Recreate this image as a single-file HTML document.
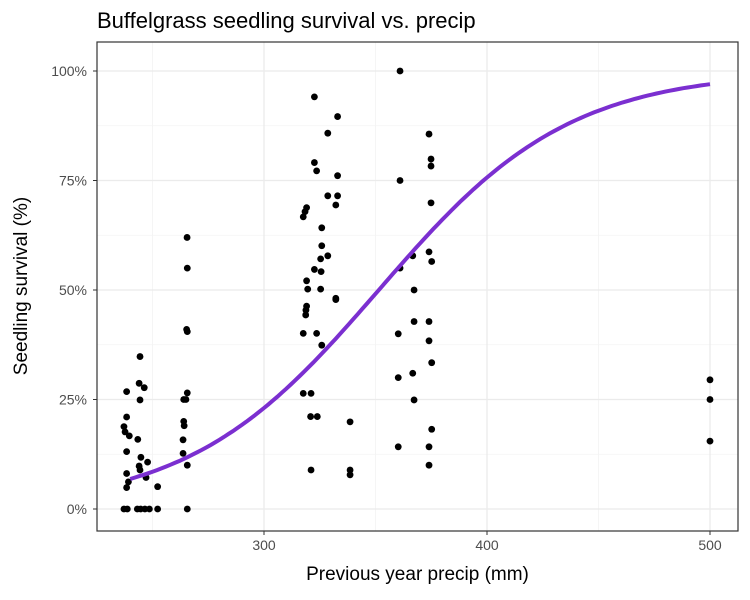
<!DOCTYPE html>
<html><head><meta charset="utf-8"><style>
body{margin:0;background:#fff;}
svg{display:block;font-family:"Liberation Sans",sans-serif;}
</style></head><body>
<svg id="chart" width="750" height="600"></svg>
<script>
const precip=[237.2,238.7,243.2,244.7,246.6,248.6,252.3,244.4,238.4,244,246.3,244.4,238.4,237.2,237.7,239.6,243.4,238.4,244.8,244,247.8,244.4,247.1,238.4,239.2,238.4,252.3,
265.5,265.6,265.6,265.3,264,265.6,265,264,264.2,263.7,263.7,265.6,265.6,
322.6,333,328.6,322.6,323.6,333,328.6,333,332.2,319.1,318.4,317.6,325.9,325.9,325.4,328.6,322.6,325.6,319.1,319.6,325.4,332.2,332.2,319.1,318.8,318.7,317.6,323.6,325.9,317.6,321.1,320.9,323.9,338.6,321.1,338.6,338.6,
361,374,374.9,374.9,361,374.9,366.7,374,375.2,361,367.3,367.3,374,360.2,374,375.2,360.2,366.7,367.3,375.2,360.2,374,374,
500,500,500];
const survival=[0,0,0,0,0,0,0,34.8,26.8,28.7,27.7,24.9,21,18.8,17.6,16.7,15.9,13.1,11.8,9.8,10.7,8.9,7.2,8.1,6.2,4.9,5.1,
62,55,40.5,41,25,26.5,25,20,19,15.8,12.7,10,0,
94.1,89.6,85.8,79.1,77.2,76.1,71.5,71.5,69.4,68.8,67.9,66.7,64.2,60.1,57.1,57.8,54.7,54.2,52.1,50.2,50.2,48.1,47.8,46.3,45.4,44.3,40.1,40.1,37.4,26.4,26.4,21.1,21.1,19.9,8.9,8.9,7.8,
100,85.6,79.9,78.3,75,69.9,57.8,58.7,56.5,55,50,42.8,42.8,40,38.4,33.4,30,31,24.9,18.2,14.2,14.2,10,
29.5,25,15.5];
const xTicks=[300,400,500];
const yTicks=[0,25,50,75,100];
const fitA=-0.25, fitB=0.0234, fitCenter=340.8;
const NS="http://www.w3.org/2000/svg";
const svg=document.getElementById('chart');
const L=97,R=738,T=42,B=531;
const sx=v=>264+(v-300)*2.23;
const sy=v=>509-v*4.38;
function mk(tag,attrs,parent){const e=document.createElementNS(NS,tag);for(const k in attrs)e.setAttribute(k,attrs[k]);(parent||svg).appendChild(e);return e;}
const grid=mk('g',{});


[250,350,450].forEach(v=>{mk('line',{x1:sx(v),x2:sx(v),y1:T,y2:B,stroke:'#f3f3f3','stroke-width':0.8},grid);});
[12.5,37.5,62.5,87.5].forEach(v=>{mk('line',{x1:L,x2:R,y1:sy(v),y2:sy(v),stroke:'#f3f3f3','stroke-width':0.8},grid);});
xTicks.forEach(v=>{mk('line',{x1:sx(v),x2:sx(v),y1:T,y2:B,stroke:'#ebebeb','stroke-width':1.3},grid);
 const t=mk('text',{x:sx(v),y:B+19,'text-anchor':'middle','font-size':14,fill:'#4d4d4d'});t.textContent=v;
 
 
 mk('line',{x1:sx(v),x2:sx(v),y1:B,y2:B+4,stroke:'#333'});});
yTicks.forEach(v=>{mk('line',{x1:L,x2:R,y1:sy(v),y2:sy(v),stroke:'#ebebeb','stroke-width':1.3},grid);
 const t=mk('text',{x:L-10,y:sy(v)+5,'text-anchor':'end','font-size':14,fill:'#4d4d4d'});t.textContent=v+'%';
 
 
 mk('line',{x1:L-4,x2:L,y1:sy(v),y2:sy(v),stroke:'#333'});});
const pts=mk('g',{});


precip.forEach((p,i)=>{const c=mk('circle',{cx:sx(p),cy:sy(survival[i]),r:3.4,fill:'#000'},pts);
 
 });
let d='';
for(let x=240;x<=500;x+=2){const p=100/(1+Math.exp(-(fitA+fitB*(x-fitCenter))));d+=(d?'L':'M')+sx(x).toFixed(1)+','+sy(p).toFixed(1);}
const fit=mk('path',{d:d,fill:'none',stroke:'#7b2fd0','stroke-width':4});


const frame=mk('rect',{x:L,y:T,width:R-L,height:B-T,fill:'none',stroke:'#333','stroke-width':1.2});


</script>
<div style="position:absolute;left:97px;top:8px;font:22px 'Liberation Sans',sans-serif;color:#000">Buffelgrass seedling survival vs. precip</div>
<div style="position:absolute;left:97px;width:641px;top:564px;text-align:center;font:19px 'Liberation Sans',sans-serif">Previous year precip (mm)</div>
<div style="position:absolute;left:22px;top:286px;transform:translate(-50%,-50%) rotate(-90deg);white-space:nowrap;font:19px 'Liberation Sans',sans-serif">Seedling survival (%)</div>
</body></html>
